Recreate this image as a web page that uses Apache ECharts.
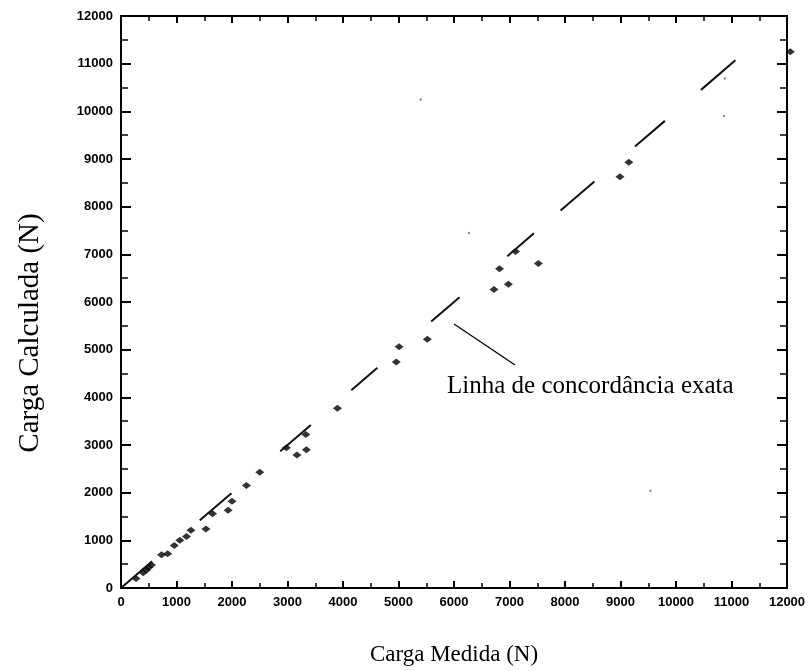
<!DOCTYPE html>
<html>
<head>
<meta charset="utf-8">
<script src="https://cdn.jsdelivr.net/npm/echarts@6/dist/echarts.min.js"></script>
<style>html,body{margin:0;padding:0;background:#fff;}#chart{width:810px;height:671px;}</style>
</head>
<body>
<div id="chart"></div>
<script>
// Measured load (N) vs calculated load (N)
const measured = [270, 400, 460, 500, 550, 730, 840, 960, 1060, 1180, 1260, 1530, 1650, 1930, 2000, 2260, 2500, 2980, 3170, 3340, 3330, 3900, 4960, 5010, 5520, 6720, 6820, 6980, 7110, 7520, 8990, 9150, 12060];
const calculated = [200, 320, 380, 430, 480, 700, 720, 890, 1000, 1080, 1210, 1240, 1560, 1630, 1820, 2150, 2430, 2940, 2790, 2900, 3220, 3770, 4740, 5060, 5220, 6260, 6700, 6370, 7060, 6810, 8630, 8930, 11250];
// Small scan specks
const speckX = [6270, 9540, 10880, 10865, 5400];
const speckY = [7450, 2040, 10690, 9900, 10250];
// Dashed line of exact agreement (y = x), visible dash extents
const dashStart = [0, 1420, 2870, 4150, 5590, 6960, 7920, 9260, 10450];
const dashEnd   = [560, 1990, 3420, 4620, 6100, 7440, 8530, 9800, 11070];
// Annotation leader line end points (data units)
const leaderFrom = [6000, 5540];
const leaderTo = [7100, 4680];
const annotation = 'Linha de concordância exata';
const xTitle = 'Carga Medida (N)';
const yTitle = 'Carga Calculada (N)';

const chart = echarts.init(document.getElementById('chart'), null, {renderer: 'canvas'});
const axisLineStyle = {color: '#000', width: 2};
const tickFont = {color: '#000', fontWeight: 'bold', fontSize: 13, fontFamily: 'Liberation Sans, Arial, sans-serif', formatter: v => String(v)};
const serif = 'Liberation Serif, Times New Roman, serif';

function xAx(pos, showLabel) {
  return {
    type: 'value', min: 0, max: 12000, interval: 1000, position: pos,
    axisLine: {show: true, onZero: false, lineStyle: axisLineStyle},
    axisTick: {show: true, inside: true, length: 7, lineStyle: {color: '#000', width: 2}},
    minorTick: {show: true, splitNumber: 2, length: 5, lineStyle: {color: '#000', width: 1.5}},
    axisLabel: Object.assign({show: showLabel, margin: 8}, tickFont),
    splitLine: {show: false},
    name: showLabel ? xTitle : '', nameLocation: 'middle', nameGap: 55,
    nameTextStyle: {fontFamily: serif, fontSize: 23, color: '#000'}
  };
}
function yAx(pos, showLabel) {
  return {
    type: 'value', min: 0, max: 12000, interval: 1000, position: pos,
    axisLine: {show: true, onZero: false, lineStyle: axisLineStyle},
    axisTick: {show: true, inside: true, length: 10, lineStyle: {color: '#000', width: 2}},
    minorTick: {show: true, splitNumber: 2, length: 7, lineStyle: {color: '#000', width: 1.5}},
    axisLabel: Object.assign({show: showLabel, margin: 8}, tickFont),
    splitLine: {show: false}
  };
}

const series = [];
dashStart.forEach((s, i) => {
  series.push({
    type: 'line', xAxisIndex: 0, yAxisIndex: 0, symbol: 'none', silent: true,
    lineStyle: {color: '#111', width: 2},
    data: [[s, s], [dashEnd[i], dashEnd[i]]]
  });
});
series.push({
  type: 'scatter', xAxisIndex: 0, yAxisIndex: 0, clip: false,
  symbol: 'diamond', symbolSize: [9, 7],
  itemStyle: {color: '#000'},
  data: measured.map((m, i) => [m, calculated[i]]),
  markLine: {
    silent: true, symbol: 'none', label: {show: false},
    lineStyle: {color: '#000', width: 1.3, type: 'solid'},
    data: [[{coord: leaderFrom}, {coord: leaderTo}]]
  }
});
series.push({
  type: 'scatter', xAxisIndex: 0, yAxisIndex: 0, clip: false,
  symbol: 'circle', symbolSize: 2.5,
  itemStyle: {color: '#777'},
  data: speckX.map((m, i) => [m, speckY[i]])
});

chart.setOption({
  backgroundColor: '#fff',
  animation: false,
  grid: {left: 121, top: 16, right: 23, bottom: 83, containLabel: false},
  xAxis: [xAx('bottom', true), xAx('top', false)],
  yAxis: [yAx('left', true), yAx('right', false)],
  graphic: [{
    type: 'text', left: 447, top: 374,
    style: {text: annotation, font: '25px ' + serif, fill: '#000'}
  }, {
    type: 'text', x: 30, y: 333, rotation: Math.PI / 2,
    style: {text: yTitle, font: '29px ' + serif, fill: '#000', align: 'center', verticalAlign: 'middle'}
  }],
  series: series
});
</script>
</body>
</html>
